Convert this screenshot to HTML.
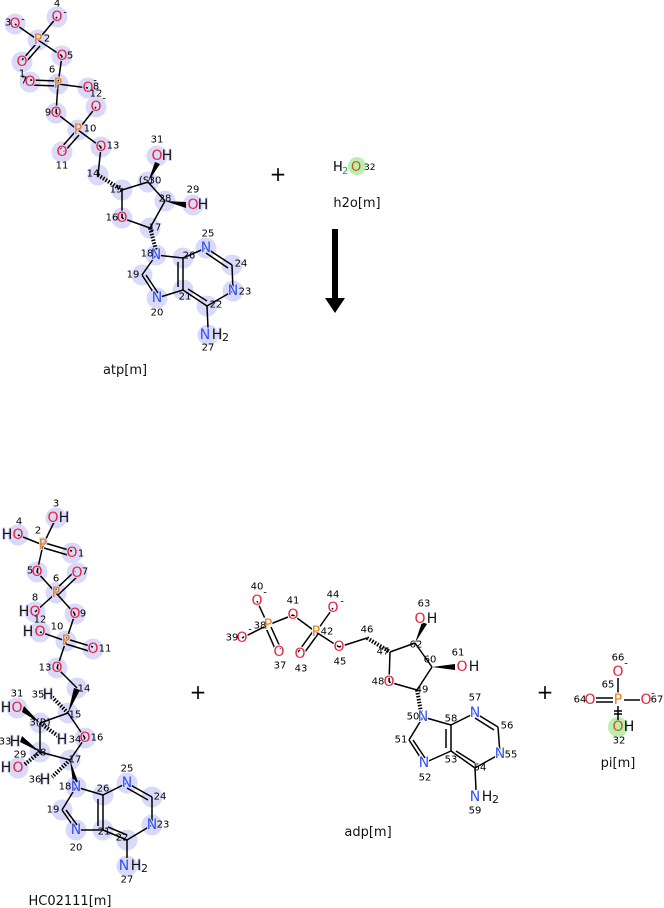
<!DOCTYPE html>
<html><head><meta charset="utf-8"><style>
html,body{margin:0;padding:0;background:#fff;}
svg{display:block;font-family:"DejaVu Sans","Liberation Sans",sans-serif;}
.c{fill:#d9d9fa;r:10.5px;}
.g{fill:#b8f0b0;}
.a{font-size:14px;text-anchor:middle;dominant-baseline:central;paint-order:stroke;stroke:#d9d9fa;stroke-width:2px;}
.w{stroke:#fff;}
.O{fill:#e8203a;}.N{fill:#3050f8;}.P{fill:#ee7a10;}.K{fill:#111;}
.n{font-size:10px;fill:#000;text-anchor:middle;dominant-baseline:central;}
.l{font-size:13px;fill:#111;text-anchor:middle;}
line{stroke:#000;stroke-width:1.5;}
</style></head><body>
<svg width="664" height="908" viewBox="0 0 664 908">
<!-- ===== ATP ===== -->
<g>
<circle class="c" cx="15" cy="24" r="10"/><circle class="c" cx="57" cy="17" r="10"/><circle class="c" cx="38" cy="40" r="10"/>
<circle class="c" cx="22" cy="62" r="10"/><circle class="c" cx="62" cy="56" r="10"/><circle class="c" cx="58" cy="84" r="10"/>
<circle class="c" cx="30" cy="82" r="10"/><circle class="c" cx="88" cy="88" r="10"/><circle class="c" cx="96" cy="107" r="10"/>
<circle class="c" cx="56" cy="113" r="10"/><circle class="c" cx="78" cy="130" r="10"/><circle class="c" cx="62" cy="152" r="10"/>
<circle class="c" cx="101" cy="147" r="10"/><circle class="c" cx="98" cy="175" r="10"/><circle class="c" cx="122" cy="190" r="10"/>
<circle class="c" cx="148" cy="182" r="10"/><circle class="c" cx="165" cy="201" r="10"/><circle class="c" cx="157" cy="156" r="10"/>
<circle class="c" cx="193" cy="205" r="10"/><circle class="c" cx="122" cy="218" r="10"/><circle class="c" cx="150" cy="228" r="10"/>
<circle class="c" cx="156" cy="255" r="10"/><circle class="c" cx="142" cy="275" r="10"/><circle class="c" cx="157" cy="298" r="10"/>
<circle class="c" cx="183" cy="290" r="10"/><circle class="c" cx="183" cy="258" r="10"/><circle class="c" cx="206" cy="248" r="10"/>
<circle class="c" cx="232" cy="265" r="10"/><circle class="c" cx="233" cy="291" r="10"/><circle class="c" cx="207" cy="306" r="10"/>
<circle class="c" cx="208" cy="335" r="10"/>
<line x1="15" y1="24" x2="38" y2="40"/><line x1="57" y1="17" x2="38" y2="40"/>
<line x1="36" y1="44" x2="22" y2="60"/><line x1="40" y1="46" x2="26" y2="62"/>
<line x1="38" y1="40" x2="62" y2="56"/><line x1="62" y1="56" x2="58" y2="84"/>
<line x1="30" y1="80" x2="58" y2="81"/><line x1="30" y1="85" x2="58" y2="86"/>
<line x1="58" y1="84" x2="88" y2="88"/><line x1="58" y1="84" x2="56" y2="113"/>
<line x1="56" y1="113" x2="78" y2="130"/><line x1="78" y1="130" x2="96" y2="107"/>
<line x1="75" y1="132" x2="60" y2="149"/><line x1="79" y1="135" x2="64" y2="152"/>
<line x1="78" y1="130" x2="101" y2="147"/><line x1="101" y1="147" x2="98" y2="175"/>
<line x1="98" y1="175" x2="122" y2="190" stroke-dasharray="1.5,1.5" style="stroke-width:4"/>
<line x1="122" y1="190" x2="148" y2="182"/><line x1="148" y1="182" x2="165" y2="201"/>
<line x1="122" y1="190" x2="122" y2="218"/><line x1="122" y1="218" x2="150" y2="228"/><line x1="150" y1="228" x2="165" y2="201"/>
<polygon points="148,182 155,162 160,164" fill="#000"/><polygon points="165,201 186,202 186,208" fill="#000"/>
<line x1="150" y1="228" x2="156" y2="250" stroke-dasharray="1.5,1.5" style="stroke-width:4"/>
<line x1="156" y1="255" x2="142" y2="275"/><line x1="142" y1="275" x2="157" y2="298"/><line x1="146" y1="275" x2="158" y2="293"/>
<line x1="157" y1="298" x2="183" y2="290"/><line x1="183" y1="290" x2="183" y2="258"/><line x1="178" y1="287" x2="178" y2="262"/>
<line x1="183" y1="258" x2="156" y2="255"/><line x1="183" y1="258" x2="206" y2="248"/><line x1="206" y1="248" x2="232" y2="265"/>
<line x1="232" y1="265" x2="233" y2="291"/><line x1="233" y1="291" x2="207" y2="306"/><line x1="207" y1="306" x2="183" y2="290"/>
<line x1="206" y1="253" x2="228" y2="268"/><line x1="207" y1="301" x2="188" y2="289"/>
<line x1="207" y1="306" x2="208" y2="328"/>
<text class="a O" x="15" y="24">O</text><text class="a O" x="57" y="17">O</text><text class="a P" x="38" y="40">P</text>
<text class="a O" x="22" y="62">O</text><text class="a O" x="62" y="56">O</text><text class="a P" x="58" y="84">P</text>
<text class="a O" x="30" y="82">O</text><text class="a O" x="88" y="88">O</text><text class="a O" x="96" y="107">O</text>
<text class="a O" x="56" y="113">O</text><text class="a P" x="78" y="130">P</text><text class="a O" x="62" y="152">O</text>
<text class="a O" x="101" y="147">O</text><text class="a O" x="157" y="156">O</text><text class="a K" x="167" y="156">H</text>
<text class="a O" x="193" y="205">O</text><text class="a K" x="203" y="205">H</text><text class="a O" x="122" y="218">O</text>
<text class="a N" x="156" y="255">N</text><text class="a N" x="157" y="298">N</text><text class="a N" x="206" y="248">N</text>
<text class="a N" x="233" y="291">N</text><text class="a N" x="205" y="335">N</text><text class="a K" x="217" y="335">H</text><text class="K" x="222" y="341" style="font-size:11px">2</text>
<text class="n" x="8" y="23">3</text><text class="n" x="23" y="20">-</text><text class="n" x="57" y="4">4</text><text class="n" x="65" y="13">-</text>
<text class="n" x="47" y="39">2</text><text class="n" x="70" y="56">5</text><text class="n" x="22" y="74">1</text><text class="n" x="52" y="70">6</text>
<text class="n" x="24" y="81">7</text><text class="n" x="96" y="87">8</text><text class="n" x="95" y="81">-</text><text class="n" x="96" y="94">12</text><text class="n" x="104" y="99">-</text>
<text class="n" x="48" y="113">9</text><text class="n" x="90" y="129">10</text><text class="n" x="62" y="166">11</text><text class="n" x="113" y="146">13</text>
<text class="n" x="157" y="140">31</text><text class="n" x="193" y="190">29</text><text class="n" x="93" y="174">14</text><text class="n" x="116" y="190">15</text>
<text class="n" x="146" y="181">(S)</text><text class="n" x="155" y="181">30</text><text class="n" x="165" y="199">28</text>
<text class="n" x="112" y="218">16</text><text class="n" x="155" y="228">17</text><text class="n" x="147" y="254">18</text><text class="n" x="133" y="275">19</text>
<text class="n" x="157" y="313">20</text><text class="n" x="185" y="297">21</text><text class="n" x="189" y="256">26</text><text class="n" x="208" y="234">25</text>
<text class="n" x="241" y="264">24</text><text class="n" x="245" y="292">23</text><text class="n" x="216" y="305">22</text><text class="n" x="208" y="348">27</text>
<text class="l" x="125" y="374">atp[m]</text>
</g>
<!-- plus & water -->
<text x="278" y="181" style="font-size:20px" text-anchor="middle">+</text>
<circle class="g" cx="357" cy="166" r="9"/>
<text x="333" y="171" style="font-size:13px">H</text><text x="342" y="174" style="font-size:10px;fill:#0a6">2</text>
<text x="351" y="171" style="font-size:13px;fill:#d05020">O</text><text x="364" y="170" style="font-size:9px">32</text>
<text class="l" x="357" y="207">h2o[m]</text>
<rect x="332" y="229" width="6" height="70" fill="#000"/><polygon points="325,298 345,298 335,313" fill="#000"/>
<!-- ===== HC02111 ===== -->
<g>
<circle class="c" cx="56" cy="518" r="10"/><circle class="c" cx="18" cy="535" r="10"/><circle class="c" cx="72" cy="553" r="10"/>
<circle class="c" cx="37" cy="572" r="10"/><circle class="c" cx="77" cy="573" r="10"/><circle class="c" cx="56" cy="593" r="10"/>
<circle class="c" cx="35" cy="612" r="10"/><circle class="c" cx="75" cy="614" r="10"/><circle class="c" cx="40" cy="632" r="10"/>
<circle class="c" cx="66" cy="641" r="10"/><circle class="c" cx="93" cy="649" r="10"/><circle class="c" cx="57" cy="668" r="10"/>
<circle class="c" cx="77" cy="688" r="10"/><circle class="c" cx="68" cy="713" r="10"/><circle class="c" cx="17" cy="708" r="10"/>
<circle class="c" cx="40" cy="723" r="10"/><circle class="c" cx="85" cy="738" r="10"/><circle class="c" cx="40" cy="752" r="10"/>
<circle class="c" cx="18" cy="768" r="10"/><circle class="c" cx="70" cy="760" r="10"/><circle class="c" cx="76" cy="787" r="10"/>
<circle class="c" cx="62" cy="810" r="10"/><circle class="c" cx="76" cy="830" r="10"/><circle class="c" cx="103" cy="830" r="10"/>
<circle class="c" cx="103" cy="795" r="10"/><circle class="c" cx="127" cy="783" r="10"/><circle class="c" cx="152" cy="797" r="10"/>
<circle class="c" cx="152" cy="825" r="10"/><circle class="c" cx="127" cy="840" r="10"/><circle class="c" cx="127" cy="866" r="10"/>
<line x1="56" y1="518" x2="43" y2="545"/><line x1="18" y1="535" x2="43" y2="545"/>
<line x1="45" y1="543" x2="72" y2="551"/><line x1="44" y1="548" x2="71" y2="556"/>
<line x1="43" y1="545" x2="37" y2="572"/><line x1="37" y1="572" x2="56" y2="593"/>
<line x1="54" y1="591" x2="75" y2="571"/><line x1="58" y1="595" x2="79" y2="575"/>
<line x1="56" y1="593" x2="35" y2="612"/><line x1="56" y1="593" x2="75" y2="614"/><line x1="75" y1="614" x2="66" y2="641"/>
<line x1="40" y1="632" x2="66" y2="641"/><line x1="67" y1="639" x2="93" y2="647"/><line x1="66" y1="644" x2="92" y2="652"/>
<line x1="66" y1="641" x2="57" y2="668"/><line x1="57" y1="668" x2="77" y2="688"/>
<polygon points="68,713 74,688 80,690" fill="#000"/>
<line x1="68" y1="713" x2="40" y2="723"/><line x1="68" y1="713" x2="85" y2="738"/><line x1="85" y1="738" x2="70" y2="760"/>
<line x1="70" y1="760" x2="40" y2="752"/><line x1="40" y1="752" x2="40" y2="723"/>
<line x1="68" y1="713" x2="52" y2="697" stroke-dasharray="1.5,1.5" style="stroke-width:4"/>
<line x1="40" y1="723" x2="58" y2="736" stroke-dasharray="1.5,1.5" style="stroke-width:4"/>
<polygon points="40,723 24,706 22,712" fill="#000"/>
<polygon points="40,752 22,736 20,742" fill="#000"/>
<line x1="40" y1="752" x2="24" y2="765" stroke-dasharray="1.5,1.5" style="stroke-width:4"/>
<line x1="70" y1="760" x2="52" y2="777" stroke-dasharray="1.5,1.5" style="stroke-width:4"/>
<polygon points="70,760 73,783 78,782" fill="#000"/>
<line x1="76" y1="787" x2="62" y2="810"/><line x1="62" y1="810" x2="76" y2="830"/><line x1="66" y1="810" x2="77" y2="825"/>
<line x1="76" y1="830" x2="103" y2="830"/><line x1="103" y1="830" x2="103" y2="795"/><line x1="98" y1="826" x2="98" y2="799"/>
<line x1="103" y1="795" x2="76" y2="787"/><line x1="103" y1="795" x2="127" y2="783"/><line x1="127" y1="783" x2="152" y2="797"/>
<line x1="152" y1="797" x2="152" y2="825"/><line x1="152" y1="825" x2="127" y2="840"/><line x1="127" y1="840" x2="103" y2="830"/>
<line x1="127" y1="788" x2="148" y2="800"/><line x1="127" y1="835" x2="108" y2="827"/><line x1="127" y1="840" x2="127" y2="858"/>
<text class="a O" x="53" y="518">O</text><text class="a K" x="64" y="518">H</text><text class="a K" x="7" y="535">H</text><text class="a O" x="18" y="535">O</text>
<text class="a P" x="43" y="545">P</text><text class="a O" x="72" y="553">O</text><text class="a O" x="37" y="572">O</text><text class="a O" x="77" y="573">O</text>
<text class="a P" x="56" y="593">P</text><text class="a K" x="24" y="612">H</text><text class="a O" x="35" y="612">O</text><text class="a O" x="75" y="614">O</text>
<text class="a K" x="28" y="632">H</text><text class="a O" x="40" y="632">O</text><text class="a P" x="66" y="641">P</text><text class="a O" x="93" y="649">O</text>
<text class="a O" x="57" y="668">O</text><text class="a K" x="6" y="708">H</text><text class="a O" x="17" y="708">O</text>
<text class="a K" x="48" y="695">H</text><text class="a K" x="62" y="740">H</text><text class="a K" x="15" y="742">H</text><text class="a O" x="85" y="738">O</text>
<text class="a K" x="6" y="768">H</text><text class="a O" x="18" y="768">O</text><text class="a K" x="45" y="780">H</text>
<text class="a N" x="76" y="787">N</text><text class="a N" x="76" y="830">N</text><text class="a N" x="127" y="783">N</text><text class="a N" x="152" y="825">N</text>
<text class="a N" x="124" y="866">N</text><text class="a K" x="136" y="866">H</text><text class="K" x="141" y="872" style="font-size:11px">2</text>
<text class="n" x="56" y="504">3</text><text class="n" x="19" y="522">4</text><text class="n" x="38" y="531">2</text><text class="n" x="81" y="554">1</text>
<text class="n" x="30" y="571">5</text><text class="n" x="85" y="572">7</text><text class="n" x="56" y="579">6</text><text class="n" x="35" y="598">8</text>
<text class="n" x="83" y="614">9</text><text class="n" x="40" y="620">12</text><text class="n" x="57" y="627">10</text><text class="n" x="105" y="649">11</text>
<text class="n" x="45" y="668">13</text><text class="n" x="84" y="689">14</text><text class="n" x="75" y="715">15</text>
<text class="n" x="17" y="694">31</text><text class="n" x="38" y="695">35</text><text class="n" x="40" y="723">3(R)</text>
<text class="n" x="75" y="740">34</text><text class="n" x="97" y="738">16</text><text class="n" x="5" y="742">33</text>
<text class="n" x="20" y="755">29</text><text class="n" x="40" y="753">28</text><text class="n" x="75" y="760">17</text>
<text class="n" x="35" y="780">36</text><text class="n" x="65" y="787">18</text><text class="n" x="53" y="810">19</text><text class="n" x="76" y="848">20</text>
<text class="n" x="104" y="832">21</text><text class="n" x="103" y="789">26</text><text class="n" x="127" y="769">25</text><text class="n" x="160" y="797">24</text>
<text class="n" x="163" y="825">23</text><text class="n" x="122" y="838">22</text><text class="n" x="127" y="880">27</text>
<text class="l" x="70" y="905">HC02111[m]</text>
</g>
<text x="198" y="699" style="font-size:20px" text-anchor="middle">+</text>
<!-- ===== ADP ===== -->
<g>
<line x1="257" y1="601" x2="268" y2="625"/><line x1="268" y1="625" x2="293" y2="615"/><line x1="268" y1="625" x2="242" y2="638"/>
<line x1="266" y1="628" x2="276" y2="651"/><line x1="271" y1="627" x2="281" y2="649"/>
<line x1="293" y1="615" x2="316" y2="632"/><line x1="316" y1="632" x2="333" y2="608"/>
<line x1="314" y1="630" x2="298" y2="652"/><line x1="318" y1="634" x2="302" y2="656"/>
<line x1="316" y1="632" x2="339" y2="647"/><line x1="339" y1="647" x2="367" y2="638"/>
<line x1="367" y1="638" x2="390" y2="652" stroke-dasharray="1.5,1.5" style="stroke-width:4"/>
<line x1="390" y1="652" x2="415" y2="643"/><line x1="415" y1="643" x2="432" y2="667"/><line x1="390" y1="652" x2="389" y2="682"/>
<line x1="389" y1="682" x2="417" y2="690"/><line x1="417" y1="690" x2="432" y2="667"/>
<polygon points="415,643 422,622 427,624" fill="#000"/><polygon points="432,667 455,664 455,670" fill="#000"/>
<line x1="417" y1="690" x2="421" y2="712" stroke-dasharray="1.5,1.5" style="stroke-width:4"/>
<line x1="423" y1="717" x2="409" y2="740"/><line x1="409" y1="740" x2="424" y2="763"/><line x1="413" y1="740" x2="425" y2="758"/>
<line x1="424" y1="763" x2="451" y2="751"/><line x1="451" y1="751" x2="451" y2="725"/><line x1="446" y1="748" x2="446" y2="729"/>
<line x1="451" y1="725" x2="423" y2="717"/><line x1="451" y1="725" x2="475" y2="713"/><line x1="475" y1="713" x2="498" y2="727"/>
<line x1="498" y1="727" x2="500" y2="754"/><line x1="500" y1="754" x2="475" y2="768"/><line x1="475" y1="768" x2="451" y2="751"/>
<line x1="475" y1="718" x2="494" y2="730"/><line x1="475" y1="763" x2="456" y2="751"/><line x1="475" y1="768" x2="476" y2="790"/>
<text class="a O w" x="257" y="601">O</text><text class="a P w" x="268" y="625">P</text><text class="a O w" x="293" y="615">O</text>
<text class="a O w" x="242" y="638">O</text><text class="a O w" x="279" y="652">O</text><text class="a O w" x="333" y="608">O</text>
<text class="a P w" x="316" y="632">P</text><text class="a O w" x="300" y="654">O</text><text class="a O w" x="339" y="647">O</text>
<text class="a O w" x="420" y="619">O</text><text class="a K w" x="432" y="619">H</text><text class="a O w" x="462" y="667">O</text><text class="a K w" x="474" y="667">H</text>
<text class="a O w" x="389" y="682">O</text>
<text class="a N w" x="423" y="717">N</text><text class="a N w" x="424" y="763">N</text><text class="a N w" x="475" y="713">N</text><text class="a N w" x="500" y="754">N</text>
<text class="a N w" x="475" y="797">N</text><text class="a K w" x="487" y="797">H</text><text class="K" x="492" y="803" style="font-size:11px">2</text>
<text class="n" x="257" y="587">40</text><text class="n" x="265" y="593">-</text><text class="n" x="293" y="601">41</text><text class="n" x="333" y="595">44</text><text class="n" x="342" y="602">-</text>
<text class="n" x="260" y="626">38</text><text class="n" x="250" y="630">-</text><text class="n" x="232" y="638">39</text><text class="n" x="280" y="666">37</text>
<text class="n" x="327" y="632">42</text><text class="n" x="301" y="669">43</text><text class="n" x="340" y="662">45</text>
<text class="n" x="367" y="630">46</text><text class="n" x="383" y="652">47</text><text class="n" x="424" y="604">63</text><text class="n" x="416" y="645">62</text>
<text class="n" x="430" y="660">60</text><text class="n" x="458" y="653">61</text><text class="n" x="378" y="682">48</text><text class="n" x="422" y="690">49</text>
<text class="n" x="413" y="717">50</text><text class="n" x="401" y="740">51</text><text class="n" x="425" y="778">52</text><text class="n" x="451" y="760">53</text>
<text class="n" x="451" y="719">58</text><text class="n" x="475" y="698">57</text><text class="n" x="507" y="726">56</text><text class="n" x="511" y="755">55</text>
<text class="n" x="480" y="768">54</text><text class="n" x="475" y="811">59</text>
<text class="l" x="368" y="836">adp[m]</text>
</g>
<text x="545" y="699" style="font-size:20px" text-anchor="middle">+</text>
<!-- ===== Pi ===== -->
<g>
<circle class="g" cx="618" cy="727" r="10"/>
<line x1="618" y1="678" x2="618" y2="694"/><line x1="596" y1="698" x2="613" y2="698"/><line x1="596" y1="702" x2="613" y2="702"/>
<line x1="624" y1="700" x2="640" y2="700"/><line x1="618" y1="706" x2="618" y2="720"/>
<line x1="614" y1="711" x2="622" y2="711"/><line x1="614" y1="714" x2="622" y2="714"/>
<text class="a O w" x="618" y="672">O</text><text class="a P w" x="618" y="700">P</text><text class="a O w" x="590" y="700">O</text>
<text class="a O w" x="646" y="700">O</text>
<text x="618" y="727" style="font-size:14px;fill:#d05020" text-anchor="middle" dominant-baseline="central">O</text>
<text x="629" y="727" style="font-size:14px" text-anchor="middle" dominant-baseline="central">H</text>
<text class="n" x="618" y="658">66</text><text class="n" x="626" y="664">-</text><text class="n" x="608" y="685">65</text><text class="n" x="580" y="700">64</text>
<text class="n" x="657" y="700">67</text><text class="n" x="653" y="694">-</text><text class="n" x="619" y="741">32</text>
<text class="l" x="618" y="767">pi[m]</text>
</g>
</svg>
</body></html>
